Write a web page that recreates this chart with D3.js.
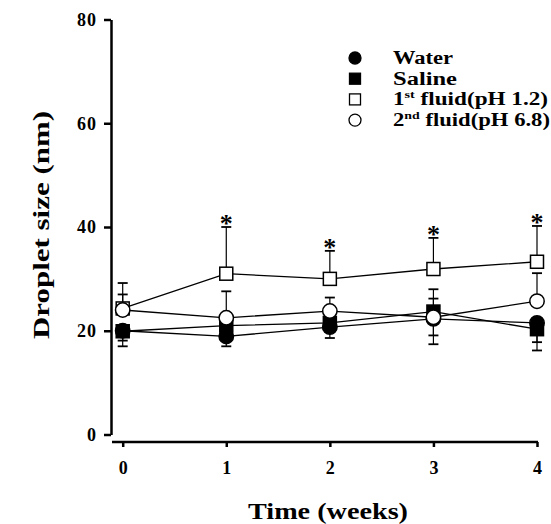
<!DOCTYPE html>
<html>
<head>
<meta charset="UTF-8">
<style>
  body { margin: 0; background: #fff; }
  svg { display: block; font-family: "Liberation Serif", "Times New Roman", serif; font-weight: bold; }
</style>
</head>
<body>
<svg width="551" height="524"></svg>
<script src="https://d3js.org/d3.v7.min.js"></script>
<script>
// weeks
const weeks = [0, 1, 2, 3, 4];
const yTicks = [0, 20, 40, 60, 80];

// droplet size means and error bars
const water = [20, 18.9, 20.7, 22.3, 21.5];
const waterErrUp = [0, 0, 0, 0, 0];
const waterErrDown = [1.9, 1.9, 2.1, 4.9, 3.7];

const saline = [19.9, 21, 21.5, 23.7, 20.3];
const salineErrUp = [0, 0, 0, 4.3, 0];
const salineErrDown = [2.9, 0, 0, 4.6, 4.1];

const fluid1 = [24.3, 31, 30, 31.9, 33.3];
const fluid1ErrUp = [4.9, 9, 5.4, 6, 6.9];
const fluid1ErrDown = [0, 0, 0, 0, 0];

const fluid2 = [24, 22.5, 23.8, 22.6, 25.7];
const fluid2ErrUp = [3, 5.1, 2.6, 3.6, 5.4];
const fluid2ErrDown = [0, 0, 0, 0, 0];

// weeks marked significant (*) for 1st fluid
const sigWeeks = [1, 2, 3, 4];

const series = [
  {name: "Water", sup: "", rest: "", len: 60, vals: water, up: waterErrUp, down: waterErrDown, shape: "circle", fill: "#000"},
  {name: "Saline", sup: "", rest: "", len: 64, vals: saline, up: salineErrUp, down: salineErrDown, shape: "square", fill: "#000"},
  {name: "1", sup: "st", rest: " fluid(pH 1.2)", len: 155, vals: fluid1, up: fluid1ErrUp, down: fluid1ErrDown, shape: "square", fill: "#fff"},
  {name: "2", sup: "nd", rest: " fluid(pH 6.8)", len: 157, vals: fluid2, up: fluid2ErrUp, down: fluid2ErrDown, shape: "circle", fill: "#fff"}
];

const svg = d3.select("svg");

let x = d3.scaleLinear().domain([0, 4]).range([122.7, 537]);
let y = d3.scaleLinear().domain([0, 80]).range([434.5, 19.5]);

// y axis
let yAxis = svg.append("g").attr("transform", "translate(111,0)")
  .call(d3.axisLeft(y).tickValues(yTicks).tickSize(7).tickPadding(7).tickSizeOuter(0));
yAxis.select(".domain").attr("stroke-width", 2.5);
yAxis.selectAll(".tick line").attr("stroke-width", 2.5);
yAxis.selectAll("text").attr("font-size", 18).attr("letter-spacing", 1)
  .attr("font-family", "Liberation Serif").attr("font-weight", "bold");

// x axis, sits a little below the y axis end
let xAxis = svg.append("g").attr("transform", "translate(0,442)")
  .call(d3.axisBottom(x).tickValues(weeks).tickFormat(d3.format("d")).tickSize(5).tickPadding(14).tickSizeOuter(0));
xAxis.select(".domain").attr("stroke-width", 2.5).attr("d", "M112,0H538");
xAxis.selectAll(".tick line").attr("stroke-width", 2.5);
xAxis.selectAll("text").attr("font-size", 18)
  .attr("font-family", "Liberation Serif").attr("font-weight", "bold");

// axis titles
svg.append("text")
  .attr("transform", "translate(49,225) rotate(-90)")
  .attr("text-anchor", "middle")
  .attr("font-size", 24)
  .attr("textLength", 228)
  .attr("lengthAdjust", "spacingAndGlyphs")
  .text("Droplet size (nm)");

svg.append("text")
  .attr("x", 328).attr("y", 519)
  .attr("text-anchor", "middle")
  .attr("font-size", 24)
  .attr("textLength", 160)
  .attr("lengthAdjust", "spacingAndGlyphs")
  .text("Time (weeks)");

let line = d3.line().x((d, i) => x(weeks[i])).y(d => y(d));

// connecting lines
series.forEach(s => {
  svg.append("path")
    .attr("d", line(s.vals))
    .attr("fill", "none")
    .attr("stroke", "#000")
    .attr("stroke-width", 1.3);
});

// error bars
series.forEach(s => {
  s.vals.forEach((v, i) => {
    let cx = x(weeks[i]);
    [[s.up[i], 1], [s.down[i], -1]].forEach(([e, dir]) => {
      if (!e) return;
      let ye = y(v + dir * e);
      svg.append("line").attr("x1", cx).attr("x2", cx).attr("y1", y(v)).attr("y2", ye)
        .attr("stroke", "#000").attr("stroke-width", 1.2);
      svg.append("line").attr("x1", cx - 5).attr("x2", cx + 5).attr("y1", ye).attr("y2", ye)
        .attr("stroke", "#000").attr("stroke-width", 1.8);
    });
  });
});

function drawMarker(g, shape, fill, cx, cy) {
  if (shape === "circle") {
    g.append("circle").attr("cx", cx).attr("cy", cy).attr("r", 7.2)
      .attr("fill", fill).attr("stroke", "#000").attr("stroke-width", 1.5);
  } else {
    g.append("rect").attr("x", cx - 6.5).attr("y", cy - 6.5).attr("width", 13).attr("height", 13)
      .attr("fill", fill).attr("stroke", "#000").attr("stroke-width", 1.5);
  }
}

// markers
let markers = svg.append("g");
series.forEach(s => {
  s.vals.forEach((v, i) => drawMarker(markers, s.shape, s.fill, x(weeks[i]), y(v)));
});

// significance stars above 1st fluid
sigWeeks.forEach(w => {
  let i = weeks.indexOf(w);
  svg.append("text")
    .attr("x", x(w)).attr("y", y(fluid1[i] + fluid1ErrUp[i]) + 5)
    .attr("text-anchor", "middle")
    .attr("font-size", 26)
    .text("*");
});

// legend
let legend = svg.append("g");
series.forEach((s, k) => {
  let ly = 58 + k * 20.7;
  if (s.shape === "circle") {
    legend.append("circle").attr("cx", 355).attr("cy", ly).attr("r", 6)
      .attr("fill", s.fill).attr("stroke", "#000").attr("stroke-width", 1.3);
  } else {
    legend.append("rect").attr("x", 349.5).attr("y", ly - 5.5).attr("width", 11).attr("height", 11)
      .attr("fill", s.fill).attr("stroke", "#000").attr("stroke-width", 1.3);
  }
  let t = legend.append("text").attr("x", 393).attr("y", ly + 6).attr("font-size", 18)
    .attr("textLength", s.len).attr("lengthAdjust", "spacingAndGlyphs");
  t.append("tspan").text(s.name);
  if (s.sup) {
    t.append("tspan").attr("dy", -7).attr("font-size", 11).text(s.sup);
    t.append("tspan").attr("dy", 7).text(s.rest);
  }
});
</script>
</body>
</html>
